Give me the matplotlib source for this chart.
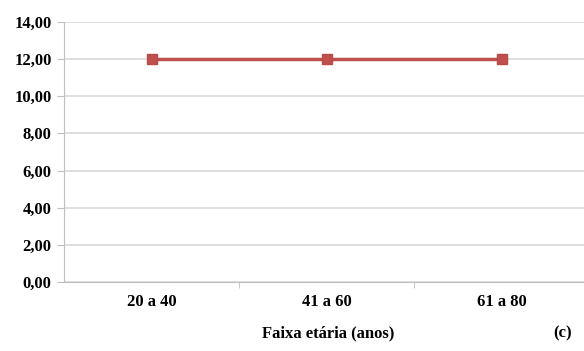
import matplotlib.pyplot as plt

# dados
faixas = ['20 a 40', '41 a 60', '61 a 80']
valores = [12.0, 12.0, 12.0]
yticks = [0, 2, 4, 6, 8, 10, 12, 14]

plt.rcParams['font.family'] = 'Liberation Serif'
plt.rcParams['font.weight'] = 'bold'

fig = plt.figure(figsize=(5.84, 3.51), dpi=100)
ax = fig.add_axes([0.1096, 0.1966, 0.899, 0.741])

x = list(range(len(faixas)))
ax.plot(x, valores, color='#c0504d', linewidth=2.5, marker='s', markersize=7.5,
        markerfacecolor='#c0504d', markeredgecolor='#b84a47', zorder=3)

ax.set_xlim(-0.5, len(faixas) - 0.5)
ax.set_ylim(0, 14)
ax.set_yticks(yticks)
ax.set_yticklabels([f'{v:.2f}'.replace('.', ',') for v in yticks], fontsize=12, fontweight='bold')
ax.set_xticks(x)
ax.set_xticklabels(faixas, fontsize=12, fontweight='bold')
ax.set_xticks([0.5, 1.5], minor=True)
ax.tick_params(axis='x', which='major', length=0, pad=9)
ax.tick_params(axis='x', which='minor', length=4, color='#bfbfbf')
ax.tick_params(axis='y', length=5, color='#bfbfbf', pad=4)

ax.grid(axis='y', color='#d9d9d9', linewidth=1.2)
ax.set_axisbelow(True)
for s in ['top', 'right']:
    ax.spines[s].set_visible(False)
ax.spines['left'].set_color('#bfbfbf')
ax.spines['bottom'].set_color('#bfbfbf')

fig.text(328 / 584, 1 - 333 / 351, 'Faixa etária (anos)', ha='center', va='center',
         fontsize=12, fontweight='bold')
fig.text(563 / 584, 1 - 333 / 351, '(c)', ha='center', va='center',
         fontsize=12, fontweight='bold')

fig.savefig('out.png', dpi=100)
